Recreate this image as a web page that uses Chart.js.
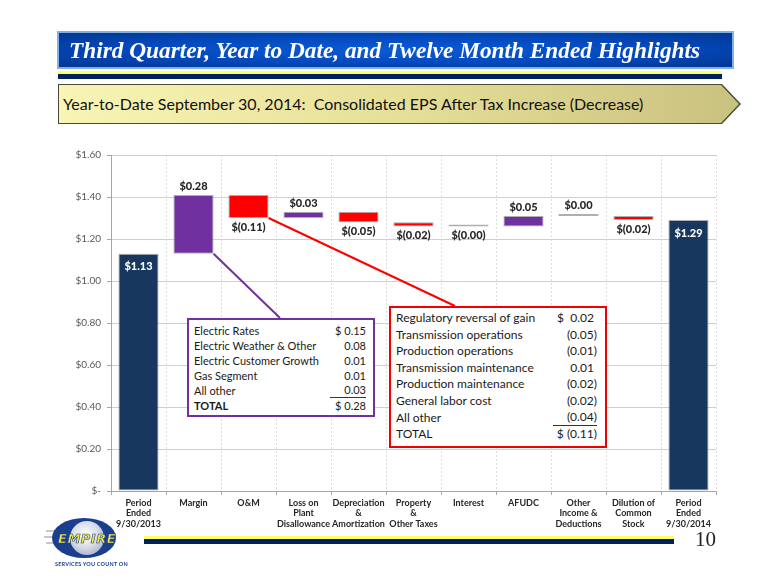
<!DOCTYPE html>
<html>
<head>
<meta charset="utf-8">
<script src="https://cdn.jsdelivr.net/npm/chart.js@4.4.1/dist/chart.umd.min.js"></script>
<style>
  body { margin: 0; background: #fff; }
  #page { position: relative; width: 780px; height: 585px; overflow: hidden; font-family: Lato, "Open Sans", sans-serif; }
  #chart { position: absolute; left: 0; top: 0; }
  .abs { position: absolute; }
  #title {
    left: 57px; top: 31px; width: 663px; height: 34px;
    border: 2px solid #7fb0e6;
    background: radial-gradient(ellipse at 50% 50%, #0b5bd6 0%, #0449bd 55%, #03368f 100%);
    color: #fff; font-family: "Liberation Serif", serif; font-style: italic; font-weight: bold;
    font-size: 23.3px; line-height: 34px; padding-left: 10px; box-sizing: content-box;
  }
  #stripe1 { left: 58px; top: 71px; width: 664px; height: 3px; background: #ffff66; }
  #stripe2 { left: 58px; top: 74px; width: 664px; height: 5px; background: #002060; }
  #sub-border { left: 58px; top: 84px; width: 683px; height: 40px; background: #4a4a3a;
    clip-path: polygon(0 0, 664px 0, 683px 50%, 664px 100%, 0 100%); }
  #sub { left: 59px; top: 85px; width: 680px; height: 38px;
    background: linear-gradient(90deg, #f8f5b5 0%, #e6df98 50%, #c9c17e 100%);
    clip-path: polygon(0 0, 662px 0, 680px 50%, 662px 100%, 0 100%);
    font-size: 16px; line-height: 38px; padding-left: 4px; color: #111; }
  .box { background: #fff; box-sizing: border-box; color: #1a1a1a; }
  #pbox { left: 187px; top: 318px; width: 188px; height: 99px; border: 2px solid #7030a0; padding: 3px 7px 0 5px; font-size: 11px; }
  #rbox { left: 389px; top: 306px; width: 218px; height: 142px; border: 2px solid #f00000; padding: 2px 8px 0 5px; font-size: 12px; }
  .row { display: flex; justify-content: space-between; white-space: pre; }
  #pbox .row { height: 15px; line-height: 15px; }
  #rbox .row { height: 16.6px; line-height: 16.6px; }
  #fstripe1 { left: 144px; top: 536px; width: 530px; height: 3px; background: #ffff66; }
  #fstripe2 { left: 144px; top: 539px; width: 530px; height: 5px; background: #002060; }
  #pagenum { left: 695px; top: 527px; font-family: "Liberation Serif", serif; font-size: 21px; color: #222; }
  #logo { left: 52px; top: 518px; width: 64px; height: 40px; border-radius: 50% / 50%; background: #1b3f8f; }
  #sphere { left: 70px; top: 521px; width: 34px; height: 34px; border-radius: 50%;
    background: radial-gradient(circle at 45% 40%, #ffffff 0%, #d8dde8 45%, #8e9bb8 100%); }
  .speed { height: 2px; background: #c8c8c8; }
  #empire { left: 58px; top: 531px; width: 58px; text-align: center; font-family: "DejaVu Sans", sans-serif; font-weight: bold; font-style: italic;
    font-size: 13px; color: #f2e84a; letter-spacing: 0.5px; -webkit-text-stroke: 0.6px #1b3f8f; }
  #tagline { left: 55px; top: 561px; font-size: 5.5px; color: #1b3f8f; font-weight: bold; letter-spacing: 0.2px; }
</style>
</head>
<body>
<div id="page">
  <canvas id="chart" width="780" height="585"></canvas>
  <div id="title" class="abs">Third Quarter, Year to Date, and Twelve Month Ended Highlights</div>
  <div id="stripe1" class="abs"></div>
  <div id="stripe2" class="abs"></div>
  <div id="sub-border" class="abs"></div>
  <div id="sub" class="abs">Year-to-Date September 30, 2014:&nbsp; Consolidated EPS After Tax Increase (Decrease)</div>
  <div id="pbox" class="abs box"></div>
  <div id="rbox" class="abs box"></div>
  <div id="fstripe1" class="abs"></div>
  <div id="fstripe2" class="abs"></div>
  <div id="pagenum" class="abs">10</div>
  <div class="abs speed" style="left:46px;top:530px;width:16px"></div>
  <div class="abs speed" style="left:44px;top:536px;width:18px"></div>
  <div class="abs speed" style="left:46px;top:542px;width:16px"></div>
  <div id="logo" class="abs"></div>
  <div id="sphere" class="abs"></div>
  <div id="empire" class="abs">EMPIRE</div>
  <div id="tagline" class="abs">SERVICES YOU COUNT ON</div>
</div>
<script>
// categories along the x axis
const categories = [
    ['Period', 'Ended', '9/30/2013'], 'Margin', 'O&M', ['Loss on', 'Plant', 'Disallowance'],
    ['Depreciation', '&', 'Amortization'], ['Property', '&', 'Other Taxes'], 'Interest', 'AFUDC',
    ['Other', 'Income &', 'Deductions'], ['Dilution of', 'Common', 'Stock'], ['Period', 'Ended', '9/30/2014']
]
// first and last are totals, the rest are changes
const changes = [1.13, 0.28, -0.11, 0.03, -0.05, -0.02, 0.00, 0.05, 0.00, -0.02, 1.29]
const valueLabels = ['$1.13', '$0.28', '$(0.11)', '$0.03', '$(0.05)', '$(0.02)', '$(0.00)', '$0.05', '$0.00', '$(0.02)', '$1.29']
const yMax = 1.6
const yStep = 0.2

// breakdown boxes
const marginItems = ['Electric Rates', 'Electric Weather & Other', 'Electric Customer Growth', 'Gas Segment', 'All other', 'TOTAL']
const marginValues = ['$ 0.15', '0.08', '0.01', '0.01', '0.03', '$ 0.28']
const omItems = ['Regulatory reversal of gain', 'Transmission operations', 'Production operations', 'Transmission maintenance',
    'Production maintenance', 'General labor cost', 'All other', 'TOTAL']
const omValues = ['$  0.02 ', '(0.05)', '(0.01)', '0.01 ', '(0.02)', '(0.02)', '(0.04)', '$ (0.11)']

function fillBox(id, items, values, boldTotal) {
    const box = document.getElementById(id)
    items.forEach((item, i) => {
        const row = document.createElement('div')
        row.className = 'row'
        const a = document.createElement('span')
        a.textContent = item
        const b = document.createElement('span')
        b.textContent = values[i]
        if (boldTotal && i === items.length - 1) {
            a.style.fontWeight = 'bold'
        }
        if (i === items.length - 2) {
            b.style.borderBottom = '1px solid #333'
            b.style.paddingLeft = '14px'
            b.style.lineHeight = (id === 'pbox' ? 13 : 14.6) + 'px'
        }
        row.appendChild(a)
        row.appendChild(b)
        box.appendChild(row)
    })
}
fillBox('pbox', marginItems, marginValues, true)
fillBox('rbox', omItems, omValues, false)

const last = changes.length - 1
let run = 0
const ranges = changes.map((c, i) => {
    if (i === 0 || i === last) {
        run = c
        return [0, c]
    }
    const start = run
    run = Math.round((run + c) * 100) / 100
    return [start, run]
})
const colors = changes.map((c, i) => {
    if (i === 0 || i === last) return '#17375e'
    if (c > 0) return '#7030a0'
    if (c < 0) return '#ff0000'
    return '#6e6e6e'
})

const labelFont = '900 11px Lato'

const waterfallExtras = {
    id: 'waterfallExtras',
    afterDatasetsDraw(chart) {
        const ctx = chart.ctx
        const bars = chart.getDatasetMeta(0).data
        ctx.save()
        // connector lines to the breakdown boxes
        ctx.lineWidth = 2
        const m = bars[1]
        ctx.strokeStyle = '#7030a0'
        ctx.beginPath()
        ctx.moveTo(m.x + m.width / 2, Math.max(m.y, m.base))
        ctx.lineTo(280, 318)
        ctx.stroke()
        const o = bars[2]
        ctx.strokeStyle = '#ff0000'
        ctx.beginPath()
        ctx.moveTo(o.x + o.width / 2, Math.max(o.y, o.base))
        ctx.lineTo(455, 306)
        ctx.stroke()
        // value labels
        ctx.font = labelFont
        ctx.textAlign = 'center'
        ctx.textBaseline = 'middle'
        bars.forEach((bar, i) => {
            const top = Math.min(bar.y, bar.base)
            const bottom = Math.max(bar.y, bar.base)
            const text = valueLabels[i]
            if (i === 0 || i === last) {
                ctx.fillStyle = '#ffffff'
                ctx.fillText(text, bar.x, top + 13)
            } else if (text.startsWith('$(')) {
                ctx.fillStyle = '#262626'
                ctx.fillText(text, bar.x, bottom + 9)
            } else {
                ctx.fillStyle = '#262626'
                ctx.fillText(text, bar.x, top - 8)
            }
        })
        ctx.restore()
    }
}

const chart = new Chart(document.getElementById('chart'), {
    type: 'bar',
    data: {
        labels: categories,
        datasets: [{
            data: ranges,
            backgroundColor: colors,
            borderColor: 'rgba(110,110,110,0.55)',
            borderWidth: 1,
            borderSkipped: false,
            minBarLength: 2,
            barPercentage: 0.73,
            categoryPercentage: 1
        }]
    },
    options: {
        responsive: false,
        animation: false,
        events: [],
        layout: { padding: { left: 61, right: 64, top: 155, bottom: 44 } },
        plugins: { legend: { display: false }, tooltip: { enabled: false } },
        scales: {
            x: {
                afterFit: s => { s.height = 50 },
                grid: { color: '#dedede', tickLength: 4, tickColor: '#a6a6a6', offset: true },
                border: { color: '#a6a6a6', dash: [2, 2] },
                ticks: { color: '#262626', font: { family: 'Lato', weight: 'bold', size: 9, lineHeight: 1.15 }, padding: 3, maxRotation: 0, autoSkip: false }
            },
            y: {
                min: 0,
                max: yMax,
                afterFit: s => { s.width = 50 },
                grid: { color: '#cfcfcf', tickLength: 4, tickColor: '#a6a6a6' },
                border: { color: '#a6a6a6' },
                ticks: {
                    stepSize: yStep,
                    padding: 6,
                    color: '#595959',
                    font: { family: 'Lato', size: 10 },
                    callback: v => v === 0 ? '$-' : '$' + v.toFixed(2)
                }
            }
        }
    },
    plugins: [waterfallExtras]
})
</script>
</body>
</html>
